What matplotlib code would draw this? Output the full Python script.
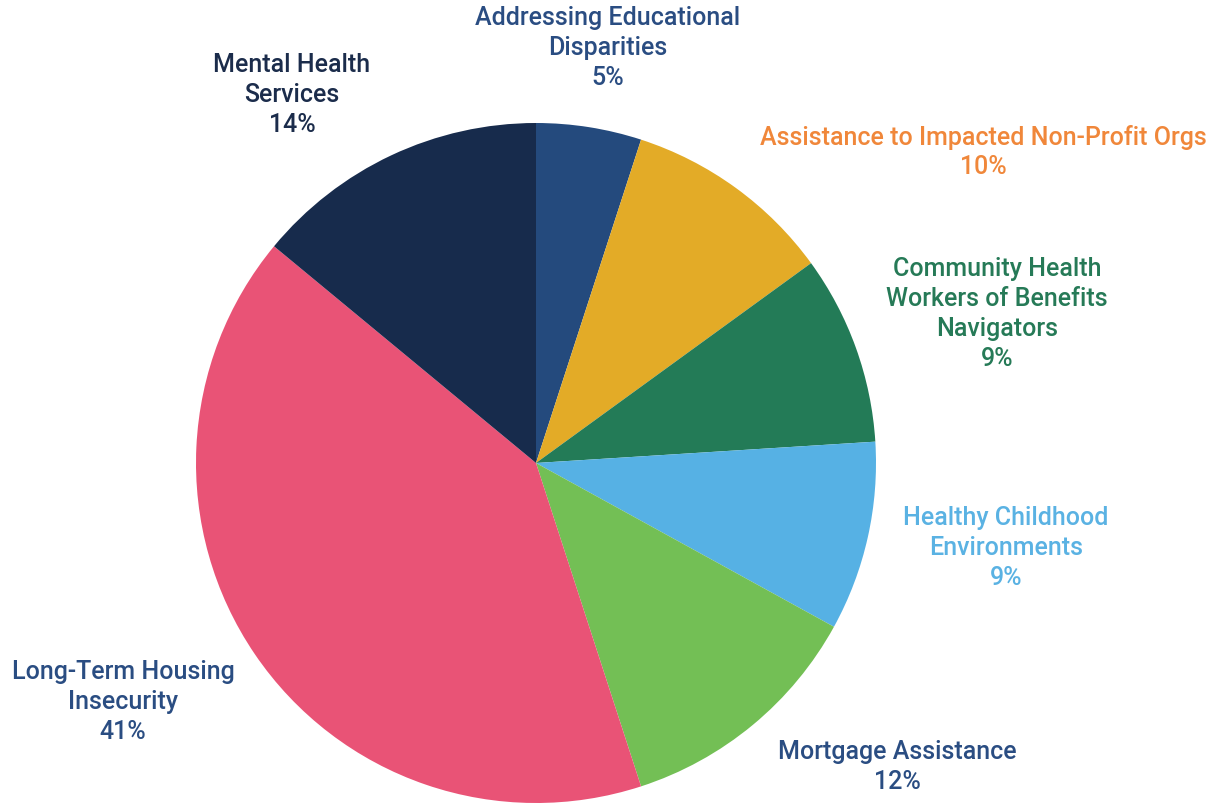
import matplotlib.pyplot as plt

# Share of funding by category, clockwise from 12 o'clock
categories = ['Addressing Educational\nDisparities',
              'Assistance to Impacted Non-Profit Orgs',
              'Community Health\nWorkers of Benefits\nNavigators',
              'Healthy Childhood\nEnvironments',
              'Mortgage Assistance',
              'Long-Term Housing\nInsecurity',
              'Mental Health\nServices']
shares = [5, 10, 9, 9, 12, 41, 14]

slice_colors = ['#244a7d', '#e3ab27', '#237b57', '#56b1e4', '#73bf55', '#e95376', '#172b4c']
text_colors = ['#2a4d82', '#f0873a', '#267a57', '#5ab2e3', '#2a4d82', '#2a4d82', '#1b2c4b']
# label centres (pixels from top-left)
label_px = [(608, 48), (983, 152), (997, 314), (1006, 548), (897, 767), (123, 702), (292, 95)]

W, H = 1215, 806
cx, cy, R = 536, 463, 340

plt.rcParams['font.family'] = ['Roboto', 'DejaVu Sans']

fig = plt.figure(figsize=(W / 100, H / 100), dpi=100)
ax = fig.add_axes([0, 0, 1, 1])
ax.pie(shares, colors=slice_colors, startangle=90, counterclock=False, radius=1,
       wedgeprops=dict(linewidth=0))
ax.set_xlim(-cx / R, (W - cx) / R)
ax.set_ylim(-(H - cy) / R, cy / R)
ax.set_aspect('equal')
ax.axis('off')

for name, val, col, (px, py) in zip(categories, shares, text_colors, label_px):
    x = (px - cx) / R
    y = (cy - py) / R
    ax.text(x, y, f'{name}\n{val}%', color=col, ha='center', va='center',
            fontsize=18, fontweight='medium', linespacing=1.3)

plt.savefig('out.png', dpi=100)
